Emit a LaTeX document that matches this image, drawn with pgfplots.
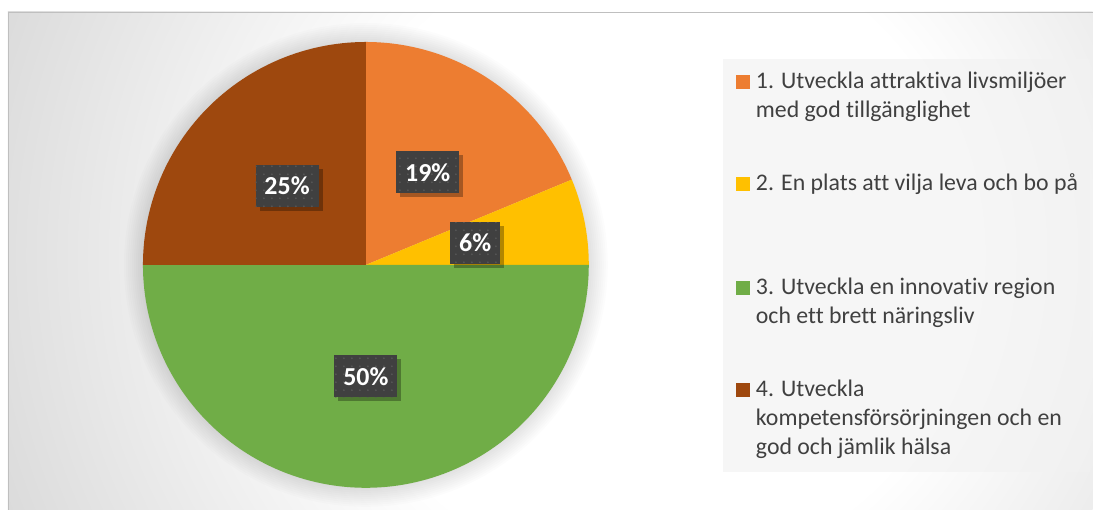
\documentclass[border=0pt]{standalone}
\usepackage{fontspec}
\setmainfont{Carlito}[Ligatures=NoCommon]
\usepackage{pgfplots}
\pgfplotsset{compat=1.18}
\usepackage{pgfplotstable}
\usetikzlibrary{shadows,patterns.meta}

\definecolor{c1}{HTML}{ED7D31}
\definecolor{c2}{HTML}{FFC000}
\definecolor{c3}{HTML}{70AD47}
\definecolor{c4}{HTML}{9E480E}
\definecolor{labgrey}{HTML}{404040}
\definecolor{dotgrey}{HTML}{575757}
\definecolor{txt}{HTML}{404040}
\definecolor{bggrey}{HTML}{C4C4C4}
\definecolor{legfill}{HTML}{F2F2F2}
\definecolor{bordergrey}{HTML}{BFBFBF}

\pgfdeclareradialshading{bgshade}{\pgfpoint{0bp}{0bp}}{color(0bp)=(white); color(10bp)=(white); color(29bp)=(bggrey); color(50bp)=(bggrey)}

% shares of the four goals (percent)
\pgfplotstableread{
goal share
1 18.75
2 6.25
3 50
4 25
}\piedata

\pgfplotstablegetelem{0}{share}\of\piedata \let\va\pgfplotsretval
\pgfplotstablegetelem{1}{share}\of\piedata \let\vb\pgfplotsretval
\pgfplotstablegetelem{2}{share}\of\piedata \let\vc\pgfplotsretval
\pgfplotstablegetelem{3}{share}\of\piedata \let\vd\pgfplotsretval
\pgfmathsetmacro\aA{90}
\pgfmathsetmacro\aB{\aA-3.6*\va}
\pgfmathsetmacro\aC{\aB-3.6*\vb}
\pgfmathsetmacro\aD{\aC-3.6*\vc}
\pgfmathsetmacro\aE{\aD-3.6*\vd}
\pgfmathsetmacro\mA{(\aA+\aB)/2}
\pgfmathsetmacro\mB{(\aB+\aC)/2}
\pgfmathsetmacro\mC{(\aC+\aD)/2}
\pgfmathsetmacro\mD{(\aD+\aE)/2}
\pgfmathsetmacro\xA{366+111.5*cos(\mA)}\pgfmathsetmacro\yA{245+111.5*sin(\mA)}
\pgfmathsetmacro\xB{366+111.5*cos(\mB)}\pgfmathsetmacro\yB{245+111.5*sin(\mB)}
\pgfmathsetmacro\xC{366+111.5*cos(\mC)}\pgfmathsetmacro\yC{245+111.5*sin(\mC)}
\pgfmathsetmacro\xD{366+111.5*cos(\mD)}\pgfmathsetmacro\yD{245+111.5*sin(\mD)}
\pgfmathtruncatemacro\lA{round(\va)}
\pgfmathtruncatemacro\lB{round(\vb)}
\pgfmathtruncatemacro\lC{round(\vc)}
\pgfmathtruncatemacro\lD{round(\vd)}

\begin{document}%
\begin{tikzpicture}[
  lab/.style={fill=labgrey, text=white, font=\fontsize{26}{30}\selectfont\bfseries,
    inner xsep=9bp, inner ysep=0pt, minimum height=42bp,
    postaction={pattern={Dots[distance=8bp,radius=1bp]}, pattern color=dotgrey},
    drop shadow={shadow xshift=4bp, shadow yshift=-4bp, fill=black, opacity=0.3}},
  legtext/.style={anchor=base west, inner sep=0pt, text=txt, font=\fontsize{23.9}{29}\selectfont}
]
\begin{axis}[scale only axis, width=1093bp, height=510bp,
  xmin=0, xmax=1093, ymin=0, ymax=510, hide axis, clip=false]
% bounding box
\path (axis cs:0,0) rectangle (axis cs:1093,510);
% background
\begin{scope}
\clip (axis cs:8,0) rectangle (axis cs:1093,498);
\shade[shading=bgshade] (axis cs:650,255) circle[radius=800bp];
\end{scope}
\draw[bordergrey, line width=0.8bp] (axis cs:8,0) -- (axis cs:8,498) -- (axis cs:1093,498);
% pie shadow
\pgfplotsinvokeforeach{224,226,...,242}{\fill[black,opacity=0.012] (axis cs:366,245) circle[radius=#1bp];}
% slices
\addplot[draw=none, fill=c1, domain=\aB:\aA, samples=60] ({366+223*cos(x)},{245+223*sin(x)}) -- (axis cs:366,245) -- cycle;
\addplot[draw=none, fill=c2, domain=\aC:\aB, samples=30] ({366+223*cos(x)},{245+223*sin(x)}) -- (axis cs:366,245) -- cycle;
\addplot[draw=none, fill=c3, domain=\aD:\aC, samples=120] ({366+223*cos(x)},{245+223*sin(x)}) -- (axis cs:366,245) -- cycle;
\addplot[draw=none, fill=c4, domain=\aE:\aD, samples=60] ({366+223*cos(x)},{245+223*sin(x)}) -- (axis cs:366,245) -- cycle;
% data labels
\node[lab] at (axis cs:\xA,\yA) {\lA\%};
\node[lab] at (axis cs:\xB,\yB) {\lB\%};
\node[lab] at (axis cs:\xC,\yC) {\lC\%};
\node[lab] at (axis cs:\xD,\yD) {\lD\%};
% legend
\fill[legfill, opacity=0.65] (axis cs:723,38) rectangle (axis cs:1090,451);
\fill[c1] (axis cs:736,421) rectangle (axis cs:750,435);
\fill[c2] (axis cs:736,319) rectangle (axis cs:750,333);
\fill[c3] (axis cs:736,215) rectangle (axis cs:750,229);
\fill[c4] (axis cs:736,113) rectangle (axis cs:750,127);
\node[legtext] at (axis cs:756,421) {1. Utveckla attraktiva livsmiljöer};
\node[legtext] at (axis cs:756,392) {med god tillgänglighet};
\node[legtext] at (axis cs:756,319) {2. En plats att vilja leva och bo på};
\node[legtext] at (axis cs:756,215) {3. Utveckla en innovativ region};
\node[legtext] at (axis cs:756,186) {och ett brett näringsliv};
\node[legtext] at (axis cs:756,113) {4. Utveckla};
\node[legtext] at (axis cs:756,84) {kompetensförsörjningen och en};
\node[legtext] at (axis cs:756,55) {god och jämlik hälsa};
\end{axis}
\end{tikzpicture}%
\end{document}
